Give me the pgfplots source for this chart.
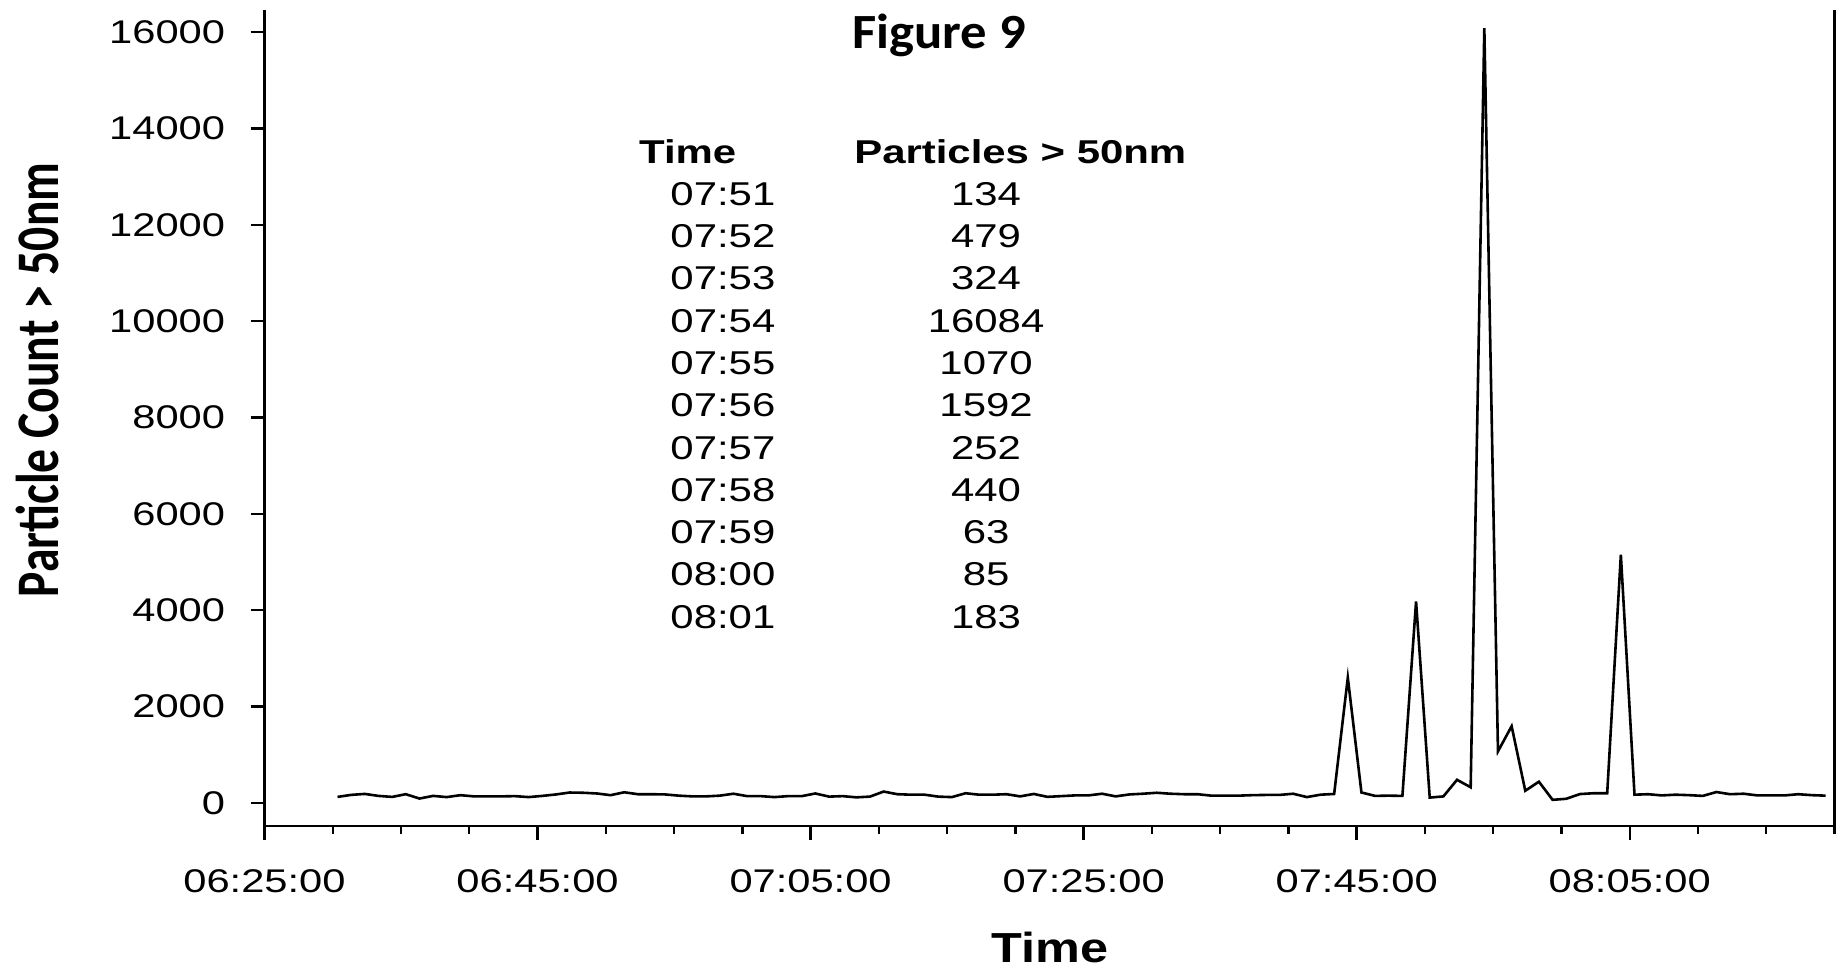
\documentclass[border=0pt]{standalone}
\usepackage{fontspec}
\setmainfont{Liberation Sans}
\newfontfamily\carlito{Carlito}
\usepackage{pgfplots}
\usepackage{pgfplotstable}
\pgfplotsset{compat=1.18}

% t = minutes after 06:00, n = particle count > 50nm
\pgfplotstableread{
t n
30 124
31 166
32 186
33 145
34 124
35 180
36 90
37 145
38 120
39 160
40 135
41 135
42 135
43 140
44 120
45 145
46 175
47 215
48 210
49 195
50 160
51 220
52 180
53 180
54 175
55 150
56 135
57 135
58 150
59 190
60 140
61 140
62 120
63 140
64 140
65 195
66 130
67 140
68 115
69 130
70 235
71 180
72 170
73 170
74 130
75 120
76 200
77 170
78 170
79 180
80 135
81 185
82 125
83 140
84 155
85 155
86 190
87 135
88 175
89 190
90 210
91 190
92 180
93 180
94 150
95 150
96 150
97 160
98 165
99 165
100 190
101 120
102 170
103 185
104 2600
105 215
106 145
107 150
108 145
109 4180
110 110
111 134
112 479
113 324
114 16084
115 1070
116 1592
117 252
118 440
119 63
120 85
121 183
122 200
123 200
124 5150
125 170
126 180
127 155
128 170
129 160
130 145
131 225
132 180
133 190
134 155
135 155
136 155
137 180
138 160
139 150
}\counts

\begin{document}
\begin{tikzpicture}
\begin{axis}[
    at={(0pt,0pt)}, anchor=south west,
    scale only axis,
    width=785pt, height=408pt,
    xmin=25, xmax=140,
    ymin=-480, ymax=16460,
    axis x line*=bottom,
    axis y line*=left,
    axis line style={line width=1.3pt},
    xtick={25,45,...,125},
    xticklabels={06:25:00,06:45:00,07:05:00,07:25:00,07:45:00,08:05:00},
    minor xtick={30,35,...,140},
    ytick={0,2000,...,16000},
    scaled y ticks=false,
    tick align=outside,
    major tick length=7pt,
    minor tick length=4pt,
    every tick/.style={black, line width=1.2pt},
    /pgf/number format/assume math mode=true,
    /pgf/number format/1000 sep={},
    tick label style={font=\fontsize{16.4}{18}\selectfont, xscale=1.27},
    xticklabel style={yshift=-11.5pt},
    yticklabel style={xshift=-6.5pt},
]
\addplot[black, line width=1.3pt] table[x expr=\thisrow{t}+0.35, y=n] {\counts};
\end{axis}

\draw[line width=1.3pt] (785pt,0pt) -- (785pt,408pt);

\node[font=\carlito\bfseries\fontsize{24.6}{28}\selectfont, xscale=1.07]
    at (337.3pt,395.5pt) {Figure 9};
\node[font=\carlito\bfseries\fontsize{23.8}{26}\selectfont, xscale=1.27, rotate=90]
    at (-113.5pt,223pt) {Particle Count > 50nm};
\node[font=\bfseries\fontsize{21}{24}\selectfont, xscale=1.2]
    at (392.75pt,-60.5pt) {Time};

\begin{scope}[every node/.style={font=\fontsize{16.5}{18}\selectfont, xscale=1.27}]
\node[font=\bfseries\fontsize{16.5}{18}\selectfont] at (211.6pt,337.2pt) {Time};
\node[font=\bfseries\fontsize{16.5}{18}\selectfont] at (377.9pt,337.2pt) {Particles > 50nm};
\foreach \tm/\val [count=\i from 0] in {07:51/134,07:52/479,07:53/324,07:54/16084,
    07:55/1070,07:56/1592,07:57/252,07:58/440,07:59/63,08:00/85,08:01/183} {
  \node at (229.2pt,316.05pt-21.15pt*\i) {\tm};
  \node at (360.8pt,316.05pt-21.15pt*\i) {\val};
}
\end{scope}

\pgfresetboundingbox
\useasboundingbox (-132.25pt,-72pt) rectangle (789.25pt,413pt);
\end{tikzpicture}
\end{document}
